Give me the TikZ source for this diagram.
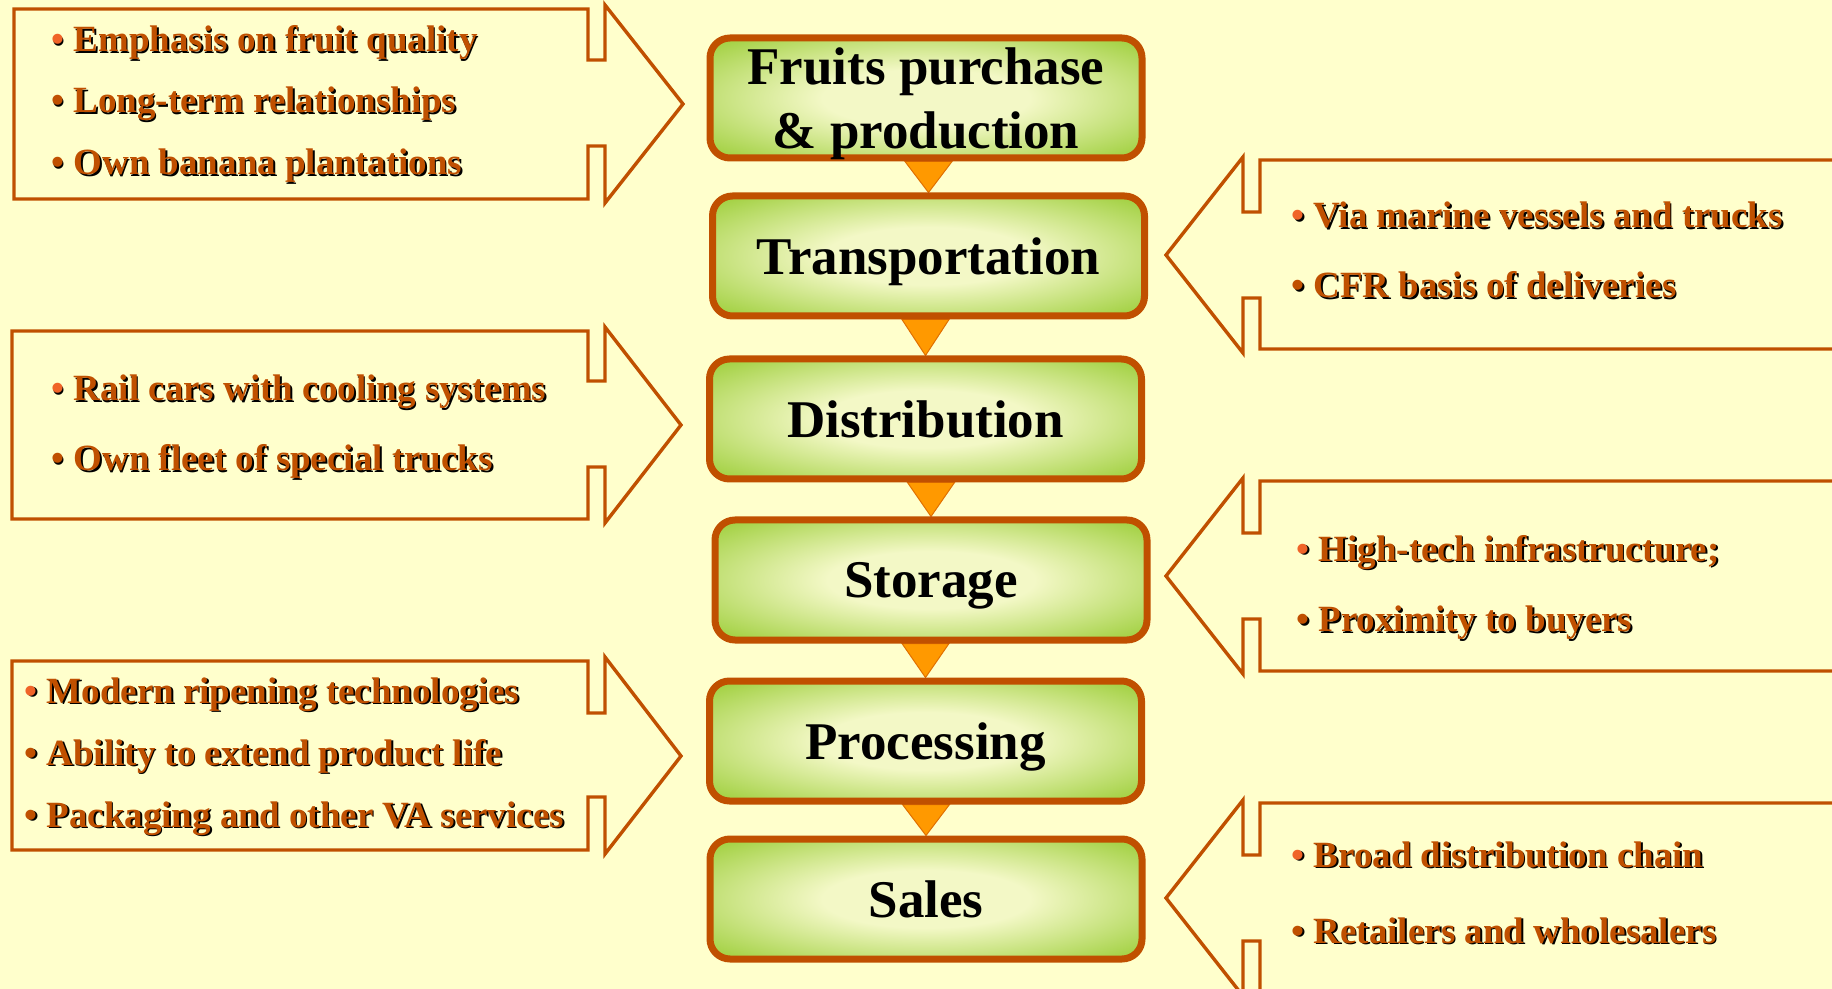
\documentclass[tikz,border=0pt]{standalone}
\usepackage{fontspec}
\setmainfont{Liberation Serif}
\usetikzlibrary{calc}

\definecolor{paper}{RGB}{255,255,204}
\definecolor{rust}{RGB}{192,80,0}
\definecolor{leaf}{RGB}{153,204,51}
\definecolor{glow}{RGB}{243,248,198}
\definecolor{amber}{RGB}{255,153,0}
\definecolor{amberline}{RGB}{224,112,0}
\definecolor{dotlight}{RGB}{240,100,40}

\pgfdeclareradialshading{stageglow}{\pgfpoint{0bp}{0bp}}{color(0bp)=(glow); color(12bp)=(glow); color(36bp)=(leaf); color(50bp)=(leaf)}

\pgfdeclarelayer{back}
\pgfsetlayers{back,main}

% bullet line with a dark drop shadow under it
\newcommand\callitem[2]{\rlap{\kern0.8pt\raisebox{-0.8pt}{\color{black}•\ #2}}{\color{#1}•}\ #2}

\tikzset{every picture/.style={line width=0.75pt}}
\tikzset{
  stage/.style={draw=rust, line width=3.5pt, rounded corners=10pt, shading=stageglow,
    minimum width=216pt, minimum height=60pt, inner sep=0pt, align=center, text depth=0pt,
    font=\fontsize{26.5}{32}\selectfont\bfseries},
  callout/.style={draw=rust, line width=1.7pt, fill=paper, line join=miter},
  calltext/.style={text=rust, inner sep=0pt, anchor=base west,
    font=\fontsize{18.5}{22}\selectfont\bfseries},
  link/.style={fill=amber, draw=amberline, line width=0.5pt}
}

\begin{document}
\begin{tikzpicture}[x=0.5pt,y=0.5pt,yscale=-1,xscale=1]
\clip (0,0) rectangle (1832,989);
\begin{pgfonlayer}{back}
\fill[paper] (0,0) rectangle (1832,989);
\end{pgfonlayer}

%Shape: Right Arrow Callout
\draw[callout] (14,9) -- (588,9) -- (588,60) -- (605,60) -- (605,5) -- (683,104) -- (605,203) -- (605,146) -- (588,146) -- (588,199) -- (14,199) -- cycle ;
%Shape: Right Arrow Callout
\draw[callout] (12,331) -- (588,331) -- (588,381) -- (605,381) -- (605,327) -- (681,425) -- (605,523) -- (605,467) -- (588,467) -- (588,519) -- (12,519) -- cycle ;
%Shape: Right Arrow Callout
\draw[callout] (12,661) -- (588,661) -- (588,713) -- (605,713) -- (605,657) -- (681,756) -- (605,854) -- (605,797) -- (588,797) -- (588,850) -- (12,850) -- cycle ;
%Shape: Left Arrow Callout
\draw[callout] (1860,160) -- (1260,160) -- (1260,212) -- (1243,212) -- (1243,157) -- (1166,255) -- (1243,353) -- (1243,298) -- (1260,298) -- (1260,349) -- (1860,349) -- cycle ;
%Shape: Left Arrow Callout
\draw[callout] (1860,481) -- (1260,481) -- (1260,533) -- (1243,533) -- (1243,478) -- (1166,576) -- (1243,674) -- (1243,619) -- (1260,619) -- (1260,671) -- (1860,671) -- cycle ;
%Shape: Left Arrow Callout
\draw[callout] (1860,803) -- (1260,803) -- (1260,855) -- (1243,855) -- (1243,800) -- (1166,898) -- (1243,996) -- (1243,941) -- (1260,941) -- (1260,993) -- (1860,993) -- cycle ;

%Rounded Rect: stages
\node[stage] (fruits) at (926,98) {Fruits purchase\\\& production};
\node[stage] (transp) at (928.5,256) {Transportation};
\node[stage] (distr) at (925.5,419) {Distribution};
\node[stage] (storage) at (931,580) {Storage};
\node[stage] (proc) at (925.5,741) {Processing};
\node[stage] (sales) at (926,899) {Sales};

%Triangles between stages
\begin{pgfonlayer}{back}
\draw[link] ($(fruits.south -| transp.north)+(-23.5,0)$) -- ($(fruits.south -| transp.north)+(23.5,0)$) -- (transp.north) -- cycle ;
\draw[link] ($(transp.south -| distr.north)+(-23.5,0)$) -- ($(transp.south -| distr.north)+(23.5,0)$) -- (distr.north) -- cycle ;
\draw[link] ($(distr.south -| storage.north)+(-23.5,0)$) -- ($(distr.south -| storage.north)+(23.5,0)$) -- (storage.north) -- cycle ;
\draw[link] ($(storage.south -| proc.north)+(-23.5,0)$) -- ($(storage.south -| proc.north)+(23.5,0)$) -- (proc.north) -- cycle ;
\draw[link] ($(proc.south -| sales.north)+(-23.5,0)$) -- ($(proc.south -| sales.north)+(23.5,0)$) -- (sales.north) -- cycle ;
\end{pgfonlayer}

% Text Node
\draw (51,52) node [calltext] (quality) {\callitem{dotlight}{Emphasis on fruit quality}};
% Text Node
\draw (51,113) node [calltext] (longterm) {\callitem{rust}{Long-term relationships}};
% Text Node
\draw (51,175) node [calltext] (plant) {\callitem{rust}{Own banana plantations}};
% Text Node
\draw (1291,228) node [calltext] (vessels) {\callitem{dotlight}{Via marine vessels and trucks}};
% Text Node
\draw (1291,298) node [calltext] (cfr) {\callitem{rust}{CFR basis of deliveries}};
% Text Node
\draw (51,401) node [calltext] (railcars) {\callitem{dotlight}{Rail cars with cooling systems}};
% Text Node
\draw (51,471) node [calltext] (fleet) {\callitem{rust}{Own fleet of special trucks}};
% Text Node
\draw (1296,561) node [calltext] (hightech) {\callitem{dotlight}{High-tech infrastructure;}};
% Text Node
\draw (1296,632) node [calltext] (buyers) {\callitem{rust}{Proximity to buyers}};
% Text Node
\draw (24,703) node [calltext] (ripening) {\callitem{dotlight}{Modern ripening technologies}};
% Text Node
\draw (24,765) node [calltext] (extend) {\callitem{rust}{Ability to extend product life}};
% Text Node
\draw (24,827) node [calltext] (packaging) {\callitem{rust}{Packaging and other VA services}};
% Text Node
\draw (1291,867) node [calltext] (chain) {\callitem{dotlight}{Broad distribution chain}};
% Text Node
\draw (1291,943) node [calltext] (retail) {\callitem{rust}{Retailers and wholesalers}};

\end{tikzpicture}
\end{document}
